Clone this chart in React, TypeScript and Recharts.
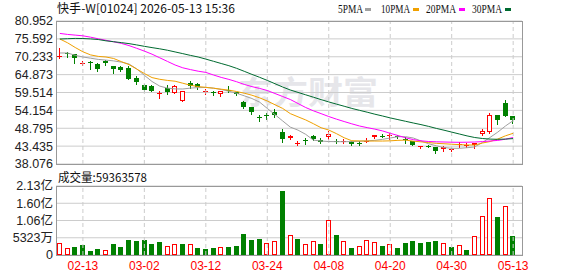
import React from 'react';
import { ComposedChart, Bar, Line, XAxis, YAxis, CartesianGrid, ReferenceLine } from 'recharts';

// trading days shown (MM-DD)
const dates = [
  '02-10', '02-11', '02-12', '02-13', '02-16', '02-20', '02-23', '02-24', '02-25', '02-26',
  '02-27', '03-02', '03-03', '03-04', '03-05', '03-06', '03-09', '03-10', '03-11', '03-12',
  '03-13', '03-16', '03-17', '03-18', '03-19', '03-20', '03-23', '03-24', '03-25', '03-26',
  '03-27', '03-30', '03-31', '04-01', '04-02', '04-08', '04-09', '04-10', '04-13', '04-14',
  '04-15', '04-16', '04-17', '04-20', '04-21', '04-22', '04-23', '04-24', '04-27', '04-28',
  '04-29', '04-30', '05-04', '05-05', '05-06', '05-07', '05-08', '05-11', '05-12', '05-13',
];

const open = [
  70.1, 71.5, 71.0, 68.4, 68.6, 68.1, 68.9, 67.5, 67.1, 66.9,
  63.9, 61.7, 61.37, 59.3, 60.9, 59.5, 57.05, 62.3, 62.06, 59.7,
  59.6, 59.05, 60.3, 59.55, 56.75, 55.05, 52.1, 52.9, 53.75, 47.75,
  45.75, 44.4, 45.15, 46.6, 45.35, 46.25, 45.0, 44.75, 44.75, 44.5,
  44.9, 46.15, 46.6, 46.6, 46.6, 45.6, 45.05, 43.4, 43.55, 43.25,
  42.66, 42.45, 43.66, 43.7, 43.66, 47.07, 47.75, 52.75, 56.27, 52.45,
];
const high = [
  72.9, 71.7, 71.1, 68.9, 69.0, 68.3, 69.35, 67.6, 67.5, 67.4,
  64.4, 62.06, 61.85, 60.05, 61.67, 61.7, 60.1, 63.0, 62.4, 60.5,
  60.05, 60.1, 61.5, 59.75, 57.05, 55.2, 52.8, 53.3, 54.5, 48.5,
  46.7, 44.95, 45.8, 46.85, 45.86, 47.9, 45.6, 45.5, 44.85, 44.95,
  45.96, 46.9, 47.1, 47.3, 46.8, 46.25, 45.1, 43.56, 43.86, 43.3,
  43.46, 42.86, 44.6, 44.5, 44.5, 48.57, 53.27, 52.85, 57.27, 52.6,
];
const low = [
  70.0, 70.3, 68.5, 67.9, 66.65, 66.05, 67.85, 65.5, 66.05, 63.6,
  62.06, 59.87, 59.87, 57.9, 59.15, 59.45, 56.9, 60.8, 60.7, 59.05,
  58.75, 58.5, 59.75, 58.7, 54.85, 53.07, 51.05, 51.45, 52.1, 44.76,
  45.5, 43.77, 44.07, 45.27, 44.3, 45.66, 44.46, 44.3, 43.67, 43.86,
  44.6, 46.0, 46.1, 45.66, 46.0, 44.46, 43.8, 42.8, 43.06, 41.46,
  41.96, 42.06, 43.27, 43.1, 42.8, 46.67, 47.45, 50.15, 52.45, 50.45,
];
const close = [
  70.5, 71.0, 69.9, 68.5, 68.4, 66.65, 68.3, 66.5, 66.4, 63.65,
  62.7, 60.3, 60.05, 59.45, 59.6, 61.55, 59.96, 61.6, 61.07, 59.85,
  59.4, 59.96, 59.9, 58.95, 55.25, 53.65, 51.95, 52.6, 52.8, 45.5,
  46.55, 44.5, 44.95, 45.65, 44.66, 46.97, 44.8, 44.9, 44.15, 44.4,
  45.0, 46.75, 46.5, 46.75, 46.1, 45.45, 43.86, 43.5, 43.45, 42.06,
  43.15, 42.55, 44.15, 43.8, 44.46, 48.07, 52.75, 51.27, 52.55, 51.27,
];

// volume in millions of shares
const volume = [
  37, 22, 26, 31, 11, 17, 16, 35, 26, 47,
  44, 47, 35, 41, 28, 35, 35, 34, 23, 20,
  23, 25, 26, 28, 66, 47, 50, 37, 44, 198,
  62, 50, 34, 43, 35, 108, 63, 43, 23, 28,
  46, 40, 29, 34, 23, 38, 44, 38, 41, 44,
  37, 26, 31, 14, 59, 120, 175, 118, 151, 59.363578,
];

const ma5 = [
  71.36, 71.36, 70.67, 70.16, 69.8, 69.44, 69.23, 68.99, 68.63, 68.06,
  66.59, 64.67, 62.81, 61.43, 60.83, 60.59, 60.56, 60.83, 60.98, 61.01,
  60.83, 60.41, 59.9, 59.3, 58.52, 57.71, 56.63, 54.74, 52.88, 50.99,
  49.13, 48.23, 46.97, 45.23, 44.96, 44.81, 44.78, 44.75, 44.81, 44.9,
  45.02, 45.17, 45.47, 45.87, 46.26, 46.26, 45.87, 44.99, 44.15, 43.53,
  43.02, 42.78, 42.78, 42.96, 43.2, 44.52, 46.05, 47.64, 49.47, 51.09,
];
const ma10 = [
  75.56, 74.42, 73.01, 71.72, 70.79, 70.34, 70.16, 69.71, 68.78, 67.88,
  66.56, 65.21, 63.98, 63.47, 63.14, 62.9, 62.3, 61.7, 61.28, 61.07,
  60.8, 60.5, 60.23, 59.81, 59.3, 58.7, 57.92, 56.96, 55.85, 54.74,
  53.18, 52.22, 51.29, 50.15, 48.95, 48.26, 47.18, 45.95, 45.05, 44.99,
  44.96, 44.96, 44.96, 45.02, 45.17, 45.23, 44.93, 44.72, 44.51, 44.27,
  44.15, 44.0, 43.88, 43.79, 43.76, 44.36, 44.81, 45.56, 46.53, 47.28,
];
const ma20 = [
  77.23, 76.93, 76.72, 76.51, 76.1, 75.62, 75.17, 74.72, 74.24, 73.58,
  72.77, 71.93, 71.0, 69.92, 68.84, 67.76, 66.92, 66.38, 65.9, 65.54,
  64.76, 64.04, 63.44, 62.75, 61.94, 61.28, 60.74, 60.11, 59.21, 58.31,
  57.41, 56.21, 55.01, 54.02, 53.18, 52.31, 51.53, 50.81, 50.12, 49.47,
  48.98, 48.53, 47.99, 47.28, 46.62, 45.93, 45.39, 45.03, 44.82, 44.73,
  44.67, 44.61, 44.58, 44.61, 44.67, 44.79, 44.97, 45.15, 45.51, 46.02,
];
const ma30 = [
  75.55, 75.64, 75.73, 75.7, 75.58, 75.4, 75.01, 74.74, 74.47, 74.17,
  73.78, 73.36, 72.97, 72.61, 72.19, 71.68, 71.17, 70.64, 70.16, 69.53,
  68.87, 68.21, 67.55, 66.77, 65.87, 64.94, 64.07, 63.14, 62.15, 61.16,
  60.26, 59.54, 58.82, 58.1, 57.38, 56.69, 56.03, 55.4, 54.74, 54.17,
  53.61, 53.01, 52.47, 51.9, 51.39, 50.88, 50.37, 49.89, 49.35, 48.75,
  48.21, 47.64, 47.07, 46.5, 46.02, 45.72, 45.54, 45.48, 45.54, 45.69,
];

const priceTicks = [38.076, 43.435, 48.795, 54.154, 59.514, 64.873, 70.233, 75.592, 80.952];
const volTicks = [0, 53.23, 106.46, 159.69, 212.92];
const labelDates = ['02-13', '03-02', '03-12', '03-24', '04-08', '04-20', '04-30', '05-13'];

const UP = '#ff0000';
const DOWN = '#008000';
const GRID = '#cccccc';
const FONT = "'Liberation Sans', Arial, 'Noto Sans CJK SC', sans-serif";

const rows = dates.map((date, i) => ({
  date,
  open: open[i],
  high: high[i],
  low: low[i],
  close: close[i],
  vol: volume[i],
  // volume colour follows close vs previous close
  volUp: i === 0 ? true : close[i] >= close[i - 1],
  ma5: ma5[i],
  ma10: ma10[i],
  ma20: ma20[i],
  ma30: ma30[i],
}));

function Candle(props: any) {
  const { x, y, width, height, payload } = props;
  if (x == null || !payload) return null;
  const top = Math.min(y, y + height);
  const span = Math.abs(height);
  const { open: o, close: c, high: h, low: l } = payload;
  const py = (v: number) => top + ((h - v) / (h - l || 1)) * span;
  const up = c >= o;
  const color = up ? UP : DOWN;
  const bx = Math.round(x + width / 2 - 2.5);
  const cx = bx + 2.5;
  const yH = Math.round(py(h));
  const yL = Math.round(py(l));
  const bTop = Math.round(py(Math.max(o, c)));
  const bBot = Math.round(py(Math.min(o, c)));

  if (bBot - bTop <= 1) {
    return (
      <g>
        <line x1={cx} x2={cx} y1={yH} y2={yL + 1} stroke={color} />
        <line x1={bx} x2={bx + 5} y1={bTop + 0.5} y2={bTop + 0.5} stroke={color} />
      </g>
    );
  }
  if (up) {
    return (
      <g>
        <line x1={cx} x2={cx} y1={yH} y2={bTop} stroke={color} />
        <line x1={cx} x2={cx} y1={bBot} y2={yL + 1} stroke={color} />
        <rect x={bx + 0.5} y={bTop + 0.5} width={4} height={bBot - bTop - 1} fill="#fff" stroke={color} />
      </g>
    );
  }
  return (
    <g>
      <line x1={cx} x2={cx} y1={yH} y2={yL + 1} stroke={color} />
      <rect x={bx} y={bTop} width={5} height={bBot - bTop} fill={color} />
    </g>
  );
}

function VolBar(props: any) {
  const { x, y, width, height, payload } = props;
  if (x == null || !payload) return null;
  const bx = Math.round(x + width / 2 - 2.5);
  const t = Math.round(y);
  const b = Math.round(y + height);
  if (payload.volUp) {
    return <rect x={bx + 0.5} y={t + 0.5} width={4} height={Math.max(b - t - 1, 0)} fill="#fff" stroke={UP} />;
  }
  return <rect x={bx} y={t} width={5} height={b - t} fill={DOWN} />;
}

const fmtVol = (v: number) => {
  if (v === 0) return '0';
  if (v < 100) return `${Math.round(v * 100)}万`;
  return `${(v / 100).toFixed(2)}亿`;
};

const legend = [
  { name: '5PMA', color: '#a0a0a0', x: 338, w: 25, sq: 365 },
  { name: '10PMA', color: '#f0a000', x: 381, w: 29, sq: 413 },
  { name: '20PMA', color: '#ff00ff', x: 426, w: 30, sq: 459 },
  { name: '30PMA', color: '#006a30', x: 472, w: 30, sq: 505 },
];

export default function App() {
  const lastVol = Math.round(volume[volume.length - 1] * 1e6);
  return (
    <div style={{ position: 'absolute', left: 0, top: 0, width: 578, height: 276, background: '#fff', overflow: 'hidden' }}>
      {/* watermark */}
      <svg width={578} height={276} style={{ position: 'absolute', left: 0, top: 0 }}>
        <text x={238} y={104} fontSize={32} fontWeight="bold" fill="#e6e6ea" fontFamily="'Noto Sans CJK SC'" textLength={140} lengthAdjust="spacingAndGlyphs">
          东方财富
        </text>
      </svg>

      <div style={{ position: 'absolute', left: 0, top: 0 }}>
        <ComposedChart width={578} height={170} data={rows} margin={{ top: 21, right: 56, bottom: 6, left: 6 }}>
          <CartesianGrid horizontal vertical={false} stroke={GRID} />
          <XAxis dataKey="date" hide padding={{ left: 0, right: 5 }} />
          <YAxis
            width={50}
            domain={[38.076, 80.952]}
            ticks={priceTicks}
            interval={0}
            allowDataOverflow
            axisLine={false}
            tickLine={false}
            tickSize={0}
            tickMargin={3}
            tickFormatter={(v: number) => v.toFixed(3)}
            tick={{ fill: '#222', fontSize: 12.5, fontFamily: FONT }}
          />
          {labelDates.map((d) => (
            <ReferenceLine key={d} x={d} stroke={GRID} strokeDasharray="4 3" />
          ))}
          <Bar dataKey={(d: any) => [d.low, d.high]} barSize={5} shape={(p: any) => <Candle {...p} />} isAnimationActive={false} />
          <Line dataKey="ma5" stroke="#a0a0a0" strokeWidth={1} dot={false} activeDot={false} isAnimationActive={false} />
          <Line dataKey="ma10" stroke="#f0a000" strokeWidth={1} dot={false} activeDot={false} isAnimationActive={false} />
          <Line dataKey="ma20" stroke="#ff00ff" strokeWidth={1} dot={false} activeDot={false} isAnimationActive={false} />
          <Line dataKey="ma30" stroke="#006a30" strokeWidth={1} dot={false} activeDot={false} isAnimationActive={false} />
        </ComposedChart>
      </div>

      <div style={{ position: 'absolute', left: 0, top: 170 }}>
        <ComposedChart width={578} height={106} data={rows} margin={{ top: 16, right: 56, bottom: 1, left: 6 }}>
          <CartesianGrid horizontal vertical={false} stroke={GRID} />
          <XAxis
            dataKey="date"
            padding={{ left: 0, right: 5 }}
            height={20}
            ticks={labelDates}
            interval={0}
            axisLine={false}
            tickLine={false}
            tickSize={0}
            tickMargin={6}
            tick={{ fill: UP, fontSize: 12, fontFamily: FONT }}
          />
          <YAxis
            width={50}
            domain={[0, 212.92]}
            ticks={volTicks}
            interval={0}
            allowDataOverflow
            axisLine={false}
            tickLine={false}
            tickSize={0}
            tickMargin={3}
            tickFormatter={fmtVol}
            tick={{ fill: '#222', fontSize: 12.5, fontFamily: FONT }}
          />
          {labelDates.map((d) => (
            <ReferenceLine key={d} x={d} stroke={GRID} strokeDasharray="4 3" />
          ))}
          <Bar dataKey="vol" barSize={5} shape={(p: any) => <VolBar {...p} />} isAnimationActive={false} />
        </ComposedChart>
      </div>

      {/* plot borders */}
      <div style={{ position: 'absolute', left: 56, top: 21, width: 467, height: 144, boxSizing: 'border-box', border: '1px solid #999', pointerEvents: 'none' }} />
      <div style={{ position: 'absolute', left: 56, top: 186, width: 467, height: 70, boxSizing: 'border-box', border: '1px solid #999', pointerEvents: 'none' }} />

      {/* header texts */}
      <svg width={578} height={276} style={{ position: 'absolute', left: 0, top: 0, pointerEvents: 'none' }}>
        <text x={57} y={13} fontSize={12} fill="#111" fontFamily="'Noto Sans CJK SC'" textLength={178} lengthAdjust="spacingAndGlyphs">
          快手-W[01024] 2026-05-13 15:36
        </text>
        {legend.map((l) => (
          <g key={l.name}>
            <text x={l.x} y={13} fontSize={12} fill="#111" fontFamily="'Liberation Serif', serif" textLength={l.w} lengthAdjust="spacingAndGlyphs">
              {l.name}
            </text>
            <rect x={l.sq} y={8} width={6} height={3} fill={l.color} />
          </g>
        ))}
        <text x={58} y={182} fontSize={12} fill="#111" fontFamily="'Noto Sans CJK SC'" textLength={89} lengthAdjust="spacingAndGlyphs">
          {`成交量:${lastVol}`}
        </text>
      </svg>
    </div>
  );
}
